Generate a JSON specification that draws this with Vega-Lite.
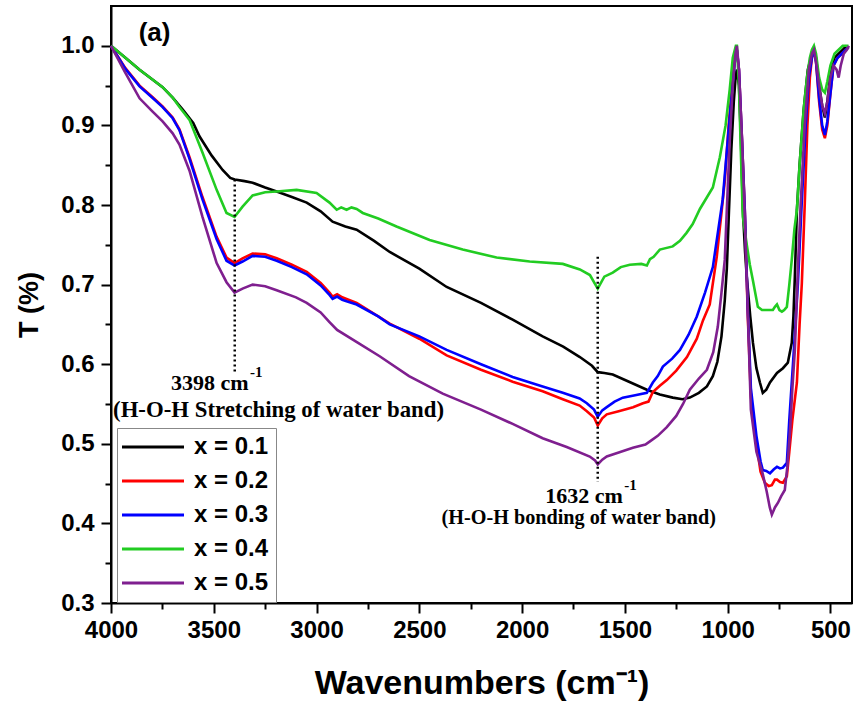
{
  "$schema": "https://vega.github.io/schema/vega-lite/v6.json",
  "width": 741,
  "height": 597,
  "autosize": {"type": "none"},
  "padding": {"left": 111, "top": 6, "right": 4, "bottom": 106},
  "background": "white",
  "config": {
    "view": {"stroke": "black", "strokeWidth": 2},
    "axis": {"grid": false, "domainColor": "black", "domainWidth": 2, "tickColor": "black", "tickWidth": 2, "labelColor": "black", "titleColor": "black", "labelFont": "Liberation Sans", "titleFont": "Liberation Sans", "labelFontWeight": "bold", "titleFontWeight": "bold"}
  },
  "datasets": {
    "spec": [
      {"s":"x = 0.1","wn":4000,"T":1.0},{"s":"x = 0.1","wn":3930,"T":0.985},{"s":"x = 0.1","wn":3861,"T":0.97},{"s":"x = 0.1","wn":3800,"T":0.958},{"s":"x = 0.1","wn":3749,"T":0.948},{"s":"x = 0.1","wn":3700,"T":0.935},{"s":"x = 0.1","wn":3651,"T":0.92},{"s":"x = 0.1","wn":3600,"T":0.903},{"s":"x = 0.1","wn":3569,"T":0.886},{"s":"x = 0.1","wn":3510,"T":0.862},{"s":"x = 0.1","wn":3457,"T":0.844},{"s":"x = 0.1","wn":3420,"T":0.834},{"s":"x = 0.1","wn":3398,"T":0.832},{"s":"x = 0.1","wn":3350,"T":0.83},{"s":"x = 0.1","wn":3311,"T":0.828},{"s":"x = 0.1","wn":3250,"T":0.822},{"s":"x = 0.1","wn":3194,"T":0.817},{"s":"x = 0.1","wn":3120,"T":0.81},{"s":"x = 0.1","wn":3048,"T":0.803},{"s":"x = 0.1","wn":2980,"T":0.792},{"s":"x = 0.1","wn":2922,"T":0.779},{"s":"x = 0.1","wn":2860,"T":0.773},{"s":"x = 0.1","wn":2805,"T":0.769},{"s":"x = 0.1","wn":2720,"T":0.755},{"s":"x = 0.1","wn":2644,"T":0.741},{"s":"x = 0.1","wn":2500,"T":0.72},{"s":"x = 0.1","wn":2367,"T":0.697},{"s":"x = 0.1","wn":2200,"T":0.677},{"s":"x = 0.1","wn":2046,"T":0.656},{"s":"x = 0.1","wn":1900,"T":0.635},{"s":"x = 0.1","wn":1800,"T":0.622},{"s":"x = 0.1","wn":1719,"T":0.609},{"s":"x = 0.1","wn":1660,"T":0.598},{"s":"x = 0.1","wn":1632,"T":0.59},{"s":"x = 0.1","wn":1600,"T":0.589},{"s":"x = 0.1","wn":1559,"T":0.587},{"s":"x = 0.1","wn":1480,"T":0.578},{"s":"x = 0.1","wn":1393,"T":0.568},{"s":"x = 0.1","wn":1330,"T":0.562},{"s":"x = 0.1","wn":1267,"T":0.558},{"s":"x = 0.1","wn":1220,"T":0.556},{"s":"x = 0.1","wn":1184,"T":0.558},{"s":"x = 0.1","wn":1140,"T":0.564},{"s":"x = 0.1","wn":1101,"T":0.572},{"s":"x = 0.1","wn":1072,"T":0.585},{"s":"x = 0.1","wn":1050,"T":0.603},{"s":"x = 0.1","wn":1030,"T":0.635},{"s":"x = 0.1","wn":1014,"T":0.68},{"s":"x = 0.1","wn":1004,"T":0.72},{"s":"x = 0.1","wn":994,"T":0.79},{"s":"x = 0.1","wn":982,"T":0.87},{"s":"x = 0.1","wn":970,"T":0.93},{"s":"x = 0.1","wn":960,"T":0.965},{"s":"x = 0.1","wn":955,"T":0.97},{"s":"x = 0.1","wn":945,"T":0.95},{"s":"x = 0.1","wn":935,"T":0.88},{"s":"x = 0.1","wn":926,"T":0.794},{"s":"x = 0.1","wn":915,"T":0.74},{"s":"x = 0.1","wn":907,"T":0.71},{"s":"x = 0.1","wn":890,"T":0.66},{"s":"x = 0.1","wn":877,"T":0.627},{"s":"x = 0.1","wn":860,"T":0.595},{"s":"x = 0.1","wn":843,"T":0.577},{"s":"x = 0.1","wn":829,"T":0.564},{"s":"x = 0.1","wn":812,"T":0.568},{"s":"x = 0.1","wn":794,"T":0.577},{"s":"x = 0.1","wn":760,"T":0.589},{"s":"x = 0.1","wn":731,"T":0.595},{"s":"x = 0.1","wn":707,"T":0.602},{"s":"x = 0.1","wn":688,"T":0.627},{"s":"x = 0.1","wn":680,"T":0.66},{"s":"x = 0.1","wn":673,"T":0.71},{"s":"x = 0.1","wn":663,"T":0.794},{"s":"x = 0.1","wn":650,"T":0.85},{"s":"x = 0.1","wn":630,"T":0.92},{"s":"x = 0.1","wn":610,"T":0.97},{"s":"x = 0.1","wn":590,"T":0.99},{"s":"x = 0.1","wn":580,"T":0.995},{"s":"x = 0.1","wn":570,"T":0.985},{"s":"x = 0.1","wn":555,"T":0.95},{"s":"x = 0.1","wn":540,"T":0.925},{"s":"x = 0.1","wn":527,"T":0.91},{"s":"x = 0.1","wn":515,"T":0.93},{"s":"x = 0.1","wn":500,"T":0.965},{"s":"x = 0.1","wn":480,"T":0.985},{"s":"x = 0.1","wn":460,"T":0.99},{"s":"x = 0.1","wn":440,"T":0.995},{"s":"x = 0.1","wn":420,"T":1.0},

      {"s":"x = 0.2","wn":4000,"T":1.0},{"s":"x = 0.2","wn":3930,"T":0.972},{"s":"x = 0.2","wn":3861,"T":0.95},{"s":"x = 0.2","wn":3800,"T":0.936},{"s":"x = 0.2","wn":3749,"T":0.924},{"s":"x = 0.2","wn":3700,"T":0.91},{"s":"x = 0.2","wn":3667,"T":0.895},{"s":"x = 0.2","wn":3618,"T":0.86},{"s":"x = 0.2","wn":3555,"T":0.81},{"s":"x = 0.2","wn":3486,"T":0.76},{"s":"x = 0.2","wn":3438,"T":0.734},{"s":"x = 0.2","wn":3399,"T":0.727},{"s":"x = 0.2","wn":3360,"T":0.733},{"s":"x = 0.2","wn":3311,"T":0.739},{"s":"x = 0.2","wn":3250,"T":0.738},{"s":"x = 0.2","wn":3194,"T":0.733},{"s":"x = 0.2","wn":3120,"T":0.725},{"s":"x = 0.2","wn":3048,"T":0.716},{"s":"x = 0.2","wn":2980,"T":0.702},{"s":"x = 0.2","wn":2937,"T":0.69},{"s":"x = 0.2","wn":2922,"T":0.685},{"s":"x = 0.2","wn":2900,"T":0.688},{"s":"x = 0.2","wn":2875,"T":0.684},{"s":"x = 0.2","wn":2854,"T":0.682},{"s":"x = 0.2","wn":2805,"T":0.677},{"s":"x = 0.2","wn":2700,"T":0.66},{"s":"x = 0.2","wn":2644,"T":0.651},{"s":"x = 0.2","wn":2500,"T":0.632},{"s":"x = 0.2","wn":2367,"T":0.611},{"s":"x = 0.2","wn":2200,"T":0.593},{"s":"x = 0.2","wn":2046,"T":0.578},{"s":"x = 0.2","wn":1900,"T":0.566},{"s":"x = 0.2","wn":1802,"T":0.556},{"s":"x = 0.2","wn":1720,"T":0.548},{"s":"x = 0.2","wn":1685,"T":0.541},{"s":"x = 0.2","wn":1650,"T":0.533},{"s":"x = 0.2","wn":1632,"T":0.523},{"s":"x = 0.2","wn":1610,"T":0.532},{"s":"x = 0.2","wn":1588,"T":0.537},{"s":"x = 0.2","wn":1530,"T":0.541},{"s":"x = 0.2","wn":1460,"T":0.546},{"s":"x = 0.2","wn":1412,"T":0.551},{"s":"x = 0.2","wn":1385,"T":0.553},{"s":"x = 0.2","wn":1364,"T":0.565},{"s":"x = 0.2","wn":1330,"T":0.573},{"s":"x = 0.2","wn":1296,"T":0.58},{"s":"x = 0.2","wn":1250,"T":0.592},{"s":"x = 0.2","wn":1198,"T":0.609},{"s":"x = 0.2","wn":1150,"T":0.632},{"s":"x = 0.2","wn":1120,"T":0.655},{"s":"x = 0.2","wn":1087,"T":0.675},{"s":"x = 0.2","wn":1053,"T":0.735},{"s":"x = 0.2","wn":1030,"T":0.79},{"s":"x = 0.2","wn":1014,"T":0.83},{"s":"x = 0.2","wn":995,"T":0.9},{"s":"x = 0.2","wn":975,"T":0.96},{"s":"x = 0.2","wn":962,"T":0.99},{"s":"x = 0.2","wn":955,"T":0.995},{"s":"x = 0.2","wn":945,"T":0.97},{"s":"x = 0.2","wn":930,"T":0.88},{"s":"x = 0.2","wn":916,"T":0.79},{"s":"x = 0.2","wn":902,"T":0.66},{"s":"x = 0.2","wn":887,"T":0.56},{"s":"x = 0.2","wn":860,"T":0.5},{"s":"x = 0.2","wn":840,"T":0.465},{"s":"x = 0.2","wn":819,"T":0.451},{"s":"x = 0.2","wn":800,"T":0.447},{"s":"x = 0.2","wn":785,"T":0.448},{"s":"x = 0.2","wn":770,"T":0.455},{"s":"x = 0.2","wn":760,"T":0.455},{"s":"x = 0.2","wn":745,"T":0.452},{"s":"x = 0.2","wn":731,"T":0.451},{"s":"x = 0.2","wn":712,"T":0.459},{"s":"x = 0.2","wn":700,"T":0.49},{"s":"x = 0.2","wn":685,"T":0.53},{"s":"x = 0.2","wn":663,"T":0.577},{"s":"x = 0.2","wn":650,"T":0.65},{"s":"x = 0.2","wn":639,"T":0.702},{"s":"x = 0.2","wn":625,"T":0.8},{"s":"x = 0.2","wn":612,"T":0.9},{"s":"x = 0.2","wn":600,"T":0.96},{"s":"x = 0.2","wn":590,"T":0.985},{"s":"x = 0.2","wn":580,"T":0.995},{"s":"x = 0.2","wn":570,"T":0.98},{"s":"x = 0.2","wn":555,"T":0.93},{"s":"x = 0.2","wn":540,"T":0.895},{"s":"x = 0.2","wn":527,"T":0.884},{"s":"x = 0.2","wn":515,"T":0.9},{"s":"x = 0.2","wn":500,"T":0.94},{"s":"x = 0.2","wn":485,"T":0.975},{"s":"x = 0.2","wn":465,"T":0.985},{"s":"x = 0.2","wn":445,"T":0.99},{"s":"x = 0.2","wn":425,"T":0.995},{"s":"x = 0.2","wn":412,"T":0.998},

      {"s":"x = 0.3","wn":4000,"T":1.0},{"s":"x = 0.3","wn":3930,"T":0.971},{"s":"x = 0.3","wn":3861,"T":0.949},{"s":"x = 0.3","wn":3800,"T":0.935},{"s":"x = 0.3","wn":3749,"T":0.923},{"s":"x = 0.3","wn":3700,"T":0.909},{"s":"x = 0.3","wn":3667,"T":0.894},{"s":"x = 0.3","wn":3618,"T":0.858},{"s":"x = 0.3","wn":3555,"T":0.807},{"s":"x = 0.3","wn":3486,"T":0.757},{"s":"x = 0.3","wn":3438,"T":0.73},{"s":"x = 0.3","wn":3399,"T":0.724},{"s":"x = 0.3","wn":3360,"T":0.729},{"s":"x = 0.3","wn":3311,"T":0.736},{"s":"x = 0.3","wn":3250,"T":0.735},{"s":"x = 0.3","wn":3194,"T":0.73},{"s":"x = 0.3","wn":3120,"T":0.722},{"s":"x = 0.3","wn":3048,"T":0.713},{"s":"x = 0.3","wn":2980,"T":0.699},{"s":"x = 0.3","wn":2937,"T":0.687},{"s":"x = 0.3","wn":2922,"T":0.682},{"s":"x = 0.3","wn":2900,"T":0.685},{"s":"x = 0.3","wn":2875,"T":0.681},{"s":"x = 0.3","wn":2854,"T":0.679},{"s":"x = 0.3","wn":2805,"T":0.675},{"s":"x = 0.3","wn":2700,"T":0.66},{"s":"x = 0.3","wn":2644,"T":0.65},{"s":"x = 0.3","wn":2500,"T":0.635},{"s":"x = 0.3","wn":2367,"T":0.618},{"s":"x = 0.3","wn":2200,"T":0.6},{"s":"x = 0.3","wn":2046,"T":0.584},{"s":"x = 0.3","wn":1900,"T":0.572},{"s":"x = 0.3","wn":1802,"T":0.564},{"s":"x = 0.3","wn":1720,"T":0.557},{"s":"x = 0.3","wn":1685,"T":0.551},{"s":"x = 0.3","wn":1650,"T":0.543},{"s":"x = 0.3","wn":1632,"T":0.534},{"s":"x = 0.3","wn":1610,"T":0.542},{"s":"x = 0.3","wn":1588,"T":0.546},{"s":"x = 0.3","wn":1550,"T":0.553},{"s":"x = 0.3","wn":1510,"T":0.558},{"s":"x = 0.3","wn":1450,"T":0.561},{"s":"x = 0.3","wn":1393,"T":0.564},{"s":"x = 0.3","wn":1364,"T":0.577},{"s":"x = 0.3","wn":1340,"T":0.585},{"s":"x = 0.3","wn":1315,"T":0.597},{"s":"x = 0.3","wn":1270,"T":0.607},{"s":"x = 0.3","wn":1232,"T":0.618},{"s":"x = 0.3","wn":1190,"T":0.637},{"s":"x = 0.3","wn":1150,"T":0.66},{"s":"x = 0.3","wn":1110,"T":0.69},{"s":"x = 0.3","wn":1072,"T":0.722},{"s":"x = 0.3","wn":1045,"T":0.77},{"s":"x = 0.3","wn":1024,"T":0.807},{"s":"x = 0.3","wn":1000,"T":0.88},{"s":"x = 0.3","wn":980,"T":0.94},{"s":"x = 0.3","wn":965,"T":0.98},{"s":"x = 0.3","wn":955,"T":0.995},{"s":"x = 0.3","wn":945,"T":0.97},{"s":"x = 0.3","wn":930,"T":0.88},{"s":"x = 0.3","wn":916,"T":0.79},{"s":"x = 0.3","wn":902,"T":0.67},{"s":"x = 0.3","wn":887,"T":0.57},{"s":"x = 0.3","wn":860,"T":0.51},{"s":"x = 0.3","wn":840,"T":0.478},{"s":"x = 0.3","wn":829,"T":0.467},{"s":"x = 0.3","wn":812,"T":0.466},{"s":"x = 0.3","wn":794,"T":0.463},{"s":"x = 0.3","wn":775,"T":0.468},{"s":"x = 0.3","wn":760,"T":0.471},{"s":"x = 0.3","wn":745,"T":0.469},{"s":"x = 0.3","wn":731,"T":0.47},{"s":"x = 0.3","wn":712,"T":0.476},{"s":"x = 0.3","wn":700,"T":0.53},{"s":"x = 0.3","wn":683,"T":0.597},{"s":"x = 0.3","wn":670,"T":0.65},{"s":"x = 0.3","wn":658,"T":0.702},{"s":"x = 0.3","wn":640,"T":0.8},{"s":"x = 0.3","wn":620,"T":0.9},{"s":"x = 0.3","wn":605,"T":0.96},{"s":"x = 0.3","wn":590,"T":0.985},{"s":"x = 0.3","wn":580,"T":0.995},{"s":"x = 0.3","wn":570,"T":0.98},{"s":"x = 0.3","wn":555,"T":0.935},{"s":"x = 0.3","wn":540,"T":0.9},{"s":"x = 0.3","wn":527,"T":0.888},{"s":"x = 0.3","wn":515,"T":0.905},{"s":"x = 0.3","wn":500,"T":0.94},{"s":"x = 0.3","wn":485,"T":0.975},{"s":"x = 0.3","wn":465,"T":0.985},{"s":"x = 0.3","wn":445,"T":0.99},{"s":"x = 0.3","wn":425,"T":0.995},{"s":"x = 0.3","wn":412,"T":0.998},

      {"s":"x = 0.4","wn":4000,"T":1.0},{"s":"x = 0.4","wn":3930,"T":0.985},{"s":"x = 0.4","wn":3861,"T":0.97},{"s":"x = 0.4","wn":3800,"T":0.958},{"s":"x = 0.4","wn":3749,"T":0.948},{"s":"x = 0.4","wn":3700,"T":0.935},{"s":"x = 0.4","wn":3667,"T":0.923},{"s":"x = 0.4","wn":3618,"T":0.907},{"s":"x = 0.4","wn":3555,"T":0.866},{"s":"x = 0.4","wn":3486,"T":0.819},{"s":"x = 0.4","wn":3438,"T":0.79},{"s":"x = 0.4","wn":3399,"T":0.785},{"s":"x = 0.4","wn":3360,"T":0.798},{"s":"x = 0.4","wn":3311,"T":0.812},{"s":"x = 0.4","wn":3250,"T":0.816},{"s":"x = 0.4","wn":3194,"T":0.817},{"s":"x = 0.4","wn":3097,"T":0.819},{"s":"x = 0.4","wn":3000,"T":0.815},{"s":"x = 0.4","wn":2937,"T":0.803},{"s":"x = 0.4","wn":2902,"T":0.794},{"s":"x = 0.4","wn":2880,"T":0.797},{"s":"x = 0.4","wn":2854,"T":0.794},{"s":"x = 0.4","wn":2830,"T":0.797},{"s":"x = 0.4","wn":2805,"T":0.795},{"s":"x = 0.4","wn":2775,"T":0.79},{"s":"x = 0.4","wn":2700,"T":0.783},{"s":"x = 0.4","wn":2611,"T":0.773},{"s":"x = 0.4","wn":2450,"T":0.756},{"s":"x = 0.4","wn":2289,"T":0.744},{"s":"x = 0.4","wn":2124,"T":0.734},{"s":"x = 0.4","wn":1963,"T":0.729},{"s":"x = 0.4","wn":1802,"T":0.726},{"s":"x = 0.4","wn":1719,"T":0.719},{"s":"x = 0.4","wn":1670,"T":0.712},{"s":"x = 0.4","wn":1632,"T":0.695},{"s":"x = 0.4","wn":1600,"T":0.71},{"s":"x = 0.4","wn":1559,"T":0.715},{"s":"x = 0.4","wn":1520,"T":0.722},{"s":"x = 0.4","wn":1476,"T":0.725},{"s":"x = 0.4","wn":1420,"T":0.726},{"s":"x = 0.4","wn":1393,"T":0.724},{"s":"x = 0.4","wn":1378,"T":0.732},{"s":"x = 0.4","wn":1360,"T":0.735},{"s":"x = 0.4","wn":1330,"T":0.744},{"s":"x = 0.4","wn":1267,"T":0.748},{"s":"x = 0.4","wn":1232,"T":0.755},{"s":"x = 0.4","wn":1200,"T":0.765},{"s":"x = 0.4","wn":1170,"T":0.776},{"s":"x = 0.4","wn":1135,"T":0.795},{"s":"x = 0.4","wn":1100,"T":0.81},{"s":"x = 0.4","wn":1072,"T":0.822},{"s":"x = 0.4","wn":1038,"T":0.86},{"s":"x = 0.4","wn":1010,"T":0.9},{"s":"x = 0.4","wn":990,"T":0.945},{"s":"x = 0.4","wn":975,"T":0.985},{"s":"x = 0.4","wn":960,"T":1.0},{"s":"x = 0.4","wn":955,"T":1.0},{"s":"x = 0.4","wn":945,"T":0.95},{"s":"x = 0.4","wn":935,"T":0.86},{"s":"x = 0.4","wn":926,"T":0.785},{"s":"x = 0.4","wn":907,"T":0.75},{"s":"x = 0.4","wn":892,"T":0.725},{"s":"x = 0.4","wn":877,"T":0.705},{"s":"x = 0.4","wn":853,"T":0.672},{"s":"x = 0.4","wn":833,"T":0.668},{"s":"x = 0.4","wn":800,"T":0.668},{"s":"x = 0.4","wn":780,"T":0.668},{"s":"x = 0.4","wn":770,"T":0.672},{"s":"x = 0.4","wn":760,"T":0.675},{"s":"x = 0.4","wn":748,"T":0.668},{"s":"x = 0.4","wn":736,"T":0.666},{"s":"x = 0.4","wn":725,"T":0.668},{"s":"x = 0.4","wn":712,"T":0.672},{"s":"x = 0.4","wn":700,"T":0.7},{"s":"x = 0.4","wn":688,"T":0.731},{"s":"x = 0.4","wn":675,"T":0.77},{"s":"x = 0.4","wn":663,"T":0.794},{"s":"x = 0.4","wn":650,"T":0.85},{"s":"x = 0.4","wn":630,"T":0.92},{"s":"x = 0.4","wn":614,"T":0.96},{"s":"x = 0.4","wn":600,"T":0.985},{"s":"x = 0.4","wn":590,"T":0.995},{"s":"x = 0.4","wn":580,"T":1.0},{"s":"x = 0.4","wn":570,"T":0.99},{"s":"x = 0.4","wn":555,"T":0.96},{"s":"x = 0.4","wn":540,"T":0.945},{"s":"x = 0.4","wn":527,"T":0.941},{"s":"x = 0.4","wn":515,"T":0.955},{"s":"x = 0.4","wn":500,"T":0.975},{"s":"x = 0.4","wn":480,"T":0.99},{"s":"x = 0.4","wn":460,"T":0.995},{"s":"x = 0.4","wn":440,"T":1.0},{"s":"x = 0.4","wn":412,"T":1.0},

      {"s":"x = 0.5","wn":4000,"T":1.0},{"s":"x = 0.5","wn":3930,"T":0.966},{"s":"x = 0.5","wn":3861,"T":0.934},{"s":"x = 0.5","wn":3800,"T":0.918},{"s":"x = 0.5","wn":3749,"T":0.905},{"s":"x = 0.5","wn":3700,"T":0.89},{"s":"x = 0.5","wn":3667,"T":0.876},{"s":"x = 0.5","wn":3618,"T":0.843},{"s":"x = 0.5","wn":3555,"T":0.785},{"s":"x = 0.5","wn":3486,"T":0.727},{"s":"x = 0.5","wn":3438,"T":0.703},{"s":"x = 0.5","wn":3399,"T":0.69},{"s":"x = 0.5","wn":3360,"T":0.695},{"s":"x = 0.5","wn":3311,"T":0.7},{"s":"x = 0.5","wn":3250,"T":0.698},{"s":"x = 0.5","wn":3194,"T":0.693},{"s":"x = 0.5","wn":3100,"T":0.684},{"s":"x = 0.5","wn":3048,"T":0.677},{"s":"x = 0.5","wn":2980,"T":0.665},{"s":"x = 0.5","wn":2937,"T":0.653},{"s":"x = 0.5","wn":2900,"T":0.643},{"s":"x = 0.5","wn":2800,"T":0.627},{"s":"x = 0.5","wn":2693,"T":0.61},{"s":"x = 0.5","wn":2550,"T":0.585},{"s":"x = 0.5","wn":2386,"T":0.563},{"s":"x = 0.5","wn":2200,"T":0.543},{"s":"x = 0.5","wn":2046,"T":0.525},{"s":"x = 0.5","wn":1900,"T":0.507},{"s":"x = 0.5","wn":1783,"T":0.496},{"s":"x = 0.5","wn":1671,"T":0.484},{"s":"x = 0.5","wn":1645,"T":0.479},{"s":"x = 0.5","wn":1632,"T":0.474},{"s":"x = 0.5","wn":1610,"T":0.48},{"s":"x = 0.5","wn":1588,"T":0.484},{"s":"x = 0.5","wn":1530,"T":0.489},{"s":"x = 0.5","wn":1461,"T":0.495},{"s":"x = 0.5","wn":1400,"T":0.499},{"s":"x = 0.5","wn":1378,"T":0.503},{"s":"x = 0.5","wn":1340,"T":0.51},{"s":"x = 0.5","wn":1296,"T":0.521},{"s":"x = 0.5","wn":1250,"T":0.535},{"s":"x = 0.5","wn":1217,"T":0.55},{"s":"x = 0.5","wn":1184,"T":0.568},{"s":"x = 0.5","wn":1140,"T":0.582},{"s":"x = 0.5","wn":1101,"T":0.593},{"s":"x = 0.5","wn":1070,"T":0.615},{"s":"x = 0.5","wn":1048,"T":0.647},{"s":"x = 0.5","wn":1030,"T":0.69},{"s":"x = 0.5","wn":1014,"T":0.731},{"s":"x = 0.5","wn":1004,"T":0.794},{"s":"x = 0.5","wn":990,"T":0.88},{"s":"x = 0.5","wn":975,"T":0.95},{"s":"x = 0.5","wn":962,"T":0.99},{"s":"x = 0.5","wn":955,"T":1.0},{"s":"x = 0.5","wn":945,"T":0.97},{"s":"x = 0.5","wn":930,"T":0.882},{"s":"x = 0.5","wn":916,"T":0.781},{"s":"x = 0.5","wn":902,"T":0.668},{"s":"x = 0.5","wn":887,"T":0.543},{"s":"x = 0.5","wn":860,"T":0.49},{"s":"x = 0.5","wn":829,"T":0.462},{"s":"x = 0.5","wn":810,"T":0.44},{"s":"x = 0.5","wn":795,"T":0.42},{"s":"x = 0.5","wn":785,"T":0.411},{"s":"x = 0.5","wn":770,"T":0.42},{"s":"x = 0.5","wn":755,"T":0.426},{"s":"x = 0.5","wn":740,"T":0.434},{"s":"x = 0.5","wn":722,"T":0.442},{"s":"x = 0.5","wn":710,"T":0.47},{"s":"x = 0.5","wn":697,"T":0.514},{"s":"x = 0.5","wn":685,"T":0.57},{"s":"x = 0.5","wn":673,"T":0.618},{"s":"x = 0.5","wn":658,"T":0.722},{"s":"x = 0.5","wn":645,"T":0.8},{"s":"x = 0.5","wn":625,"T":0.9},{"s":"x = 0.5","wn":605,"T":0.97},{"s":"x = 0.5","wn":590,"T":0.99},{"s":"x = 0.5","wn":580,"T":0.995},{"s":"x = 0.5","wn":570,"T":0.98},{"s":"x = 0.5","wn":555,"T":0.95},{"s":"x = 0.5","wn":540,"T":0.925},{"s":"x = 0.5","wn":527,"T":0.915},{"s":"x = 0.5","wn":515,"T":0.93},{"s":"x = 0.5","wn":500,"T":0.96},{"s":"x = 0.5","wn":485,"T":0.975},{"s":"x = 0.5","wn":470,"T":0.97},{"s":"x = 0.5","wn":460,"T":0.96},{"s":"x = 0.5","wn":450,"T":0.975},{"s":"x = 0.5","wn":435,"T":0.99},{"s":"x = 0.5","wn":420,"T":0.995},{"s":"x = 0.5","wn":410,"T":1.0}
    ]
  },
  "layer": [
    {
      "data": {"name": "spec"},
      "mark": {"type": "line", "strokeWidth": 2.6, "interpolate": "linear"},
      "encoding": {
        "x": {"field": "wn", "type": "quantitative", "scale": {"domain": [4000, 395], "nice": false, "zero": false},
          "axis": {"values": [4000, 3500, 3000, 2500, 2000, 1500, 1000, 500], "format": "d", "labelFontSize": 24, "tickSize": 10, "labelPadding": 5, "labelFlush": false, "labelOverlap": false, "title": "Wavenumbers (cm⁻¹)", "titleFontSize": 34, "titlePadding": 24}},
        "y": {"field": "T", "type": "quantitative", "scale": {"domain": [0.3, 1.05], "nice": false, "zero": false},
          "axis": {"values": [0.3, 0.4, 0.5, 0.6, 0.7, 0.8, 0.9, 1.0], "format": ".1f", "labelFontSize": 24, "tickSize": 10, "labelPadding": 7, "title": "T (%)", "titleFontSize": 27, "titlePadding": 17}},
        "color": {"field": "s", "type": "nominal",
          "scale": {"domain": ["x = 0.1", "x = 0.2", "x = 0.3", "x = 0.4", "x = 0.5"], "range": ["#000000", "#ff0000", "#0000ff", "#22cc22", "#7f1f8f"]},
          "legend": {"orient": "none", "legendX": 6, "legendY": 422, "title": null, "symbolType": "M-1.4,0H4.8", "symbolSize": 400, "symbolStrokeWidth": 3, "labelFont": "Liberation Sans", "labelFontWeight": "bold", "labelFontSize": 24, "labelColor": "black", "labelOffset": 46, "strokeColor": "#888888", "fillColor": "white", "padding": 7, "rowPadding": 10}},
        "order": {"field": "wn", "sort": "descending"}
      }
    },
    {
      "data": {"values": [{"wn": 3398, "top": 0.832, "bot": 0.59}, {"wn": 1632, "top": 0.735, "bot": 0.452}]},
      "mark": {"type": "rule", "strokeDash": [2, 3], "strokeWidth": 2.5, "color": "black"},
      "encoding": {
        "x": {"field": "wn", "type": "quantitative", "axis": {"orient": "bottom", "values": [3750, 3250, 2750, 2250, 1750, 1250, 750], "tickSize": 6, "labels": false, "domain": false, "title": null}},
        "y": {"field": "top", "type": "quantitative", "axis": {"orient": "left", "values": [0.35, 0.45, 0.55, 0.65, 0.75, 0.85, 0.95], "tickSize": 6, "labels": false, "domain": false, "title": null}},
        "y2": {"field": "bot"}
      }
    },
    {
      "data": {"values": [{"wn": 3331, "T": 0.568, "label": "3398 cm"}, {"wn": 1510, "T": 0.4254, "label": "1632 cm"}]},
      "mark": {"type": "text", "align": "right", "baseline": "alphabetic", "font": "Liberation Serif", "fontWeight": "bold", "fontSize": 22, "color": "black"},
      "encoding": {"x": {"field": "wn", "type": "quantitative", "axis": null}, "y": {"field": "T", "type": "quantitative", "axis": null}, "text": {"field": "label"}}
    },
    {
      "data": {"values": [{"wn": 3324, "T": 0.584, "label": "-1"}, {"wn": 1503, "T": 0.442, "label": "-1"}]},
      "mark": {"type": "text", "align": "left", "baseline": "alphabetic", "font": "Liberation Serif", "fontWeight": "bold", "fontSize": 15, "color": "black"},
      "encoding": {"x": {"field": "wn", "type": "quantitative", "axis": null}, "y": {"field": "T", "type": "quantitative", "axis": null}, "text": {"field": "label"}}
    },
    {
      "data": {"values": [{"wn": 3185, "T": 0.534, "label": "(H-O-H Stretching of water band)"}]},
      "mark": {"type": "text", "align": "center", "baseline": "alphabetic", "font": "Liberation Serif", "fontWeight": "bold", "fontSize": 22.8, "color": "black"},
      "encoding": {"x": {"field": "wn", "type": "quantitative", "axis": null}, "y": {"field": "T", "type": "quantitative", "axis": null}, "text": {"field": "label"}}
    },
    {
      "data": {"values": [{"wn": 1724, "T": 0.399, "label": "(H-O-H bonding of water band)"}]},
      "mark": {"type": "text", "align": "center", "baseline": "alphabetic", "font": "Liberation Serif", "fontWeight": "bold", "fontSize": 20.2, "color": "black"},
      "encoding": {"x": {"field": "wn", "type": "quantitative", "axis": null}, "y": {"field": "T", "type": "quantitative", "axis": null}, "text": {"field": "label"}}
    },
    {
      "data": {"values": [{"wn": 3788, "T": 1.0166, "label": "(a)"}]},
      "mark": {"type": "text", "align": "center", "baseline": "middle", "font": "Liberation Sans", "fontWeight": "bold", "fontSize": 26, "color": "black"},
      "encoding": {"x": {"field": "wn", "type": "quantitative", "axis": null}, "y": {"field": "T", "type": "quantitative", "axis": null}, "text": {"field": "label"}}
    }
  ],
  "resolve": {"axis": {"x": "independent", "y": "independent"}}
}
